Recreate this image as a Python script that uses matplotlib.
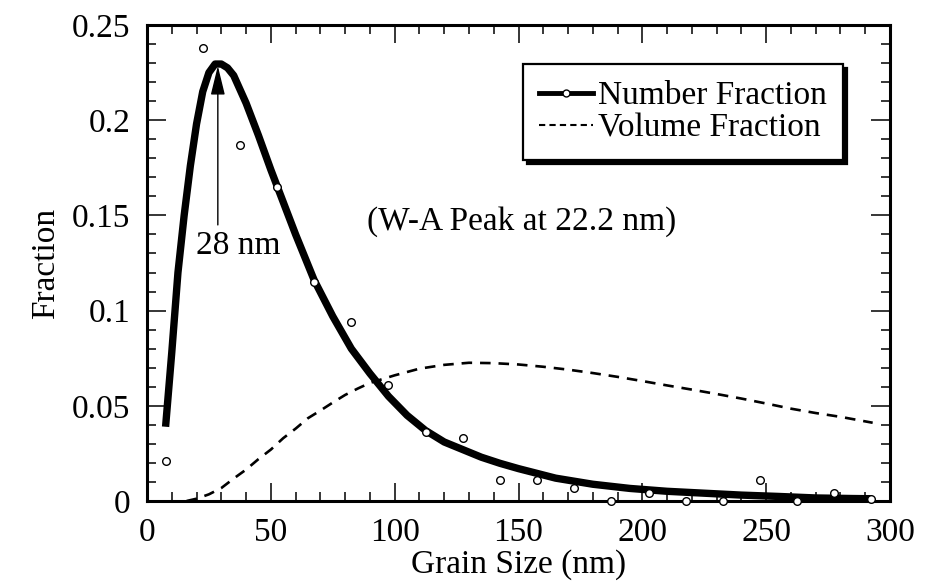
import matplotlib
matplotlib.use("Agg")
import matplotlib.pyplot as plt
from matplotlib.ticker import MultipleLocator

plt.rcParams['font.family'] = ['Liberation Serif', 'DejaVu Serif']
plt.rcParams['mathtext.fontset'] = 'stix'

# Measured points (Number Fraction)
num_x = [7.5, 22.5, 37.5, 52.5, 67.5, 82.5, 97.5, 112.5, 127.5, 142.5,
         157.5, 172.5, 187.5, 202.5, 217.5, 232.5, 247.5, 262.5, 277.5, 292.5]
num_y = [0.021, 0.238, 0.187, 0.165, 0.115, 0.094, 0.061, 0.036, 0.033, 0.011,
         0.011, 0.007, 0.000, 0.004, 0.000, 0.000, 0.011, 0.000, 0.004, 0.001]

# Fitted Number Fraction curve
fit_x = [7.5, 10, 12.5, 15, 17.5, 20, 22.5, 25, 27.5, 30, 32.5, 35, 40, 45, 50,
         55, 60, 67.5, 75, 82.5, 90, 97.5, 105, 112.5, 120, 127.5, 135, 142.5,
         150, 165, 180, 195, 210, 225, 240, 255, 270, 285, 292.5]
fit_y = [0.039, 0.078, 0.120, 0.150, 0.176, 0.198, 0.215, 0.225, 0.2295, 0.2295,
         0.2275, 0.2235, 0.209, 0.192, 0.174, 0.157, 0.140, 0.116, 0.097, 0.080,
         0.067, 0.055, 0.045, 0.037, 0.031, 0.027, 0.023, 0.0198, 0.017, 0.012,
         0.0088, 0.0066, 0.0051, 0.0041, 0.0031, 0.0024, 0.0016, 0.0013, 0.0012]

# Volume Fraction curve
vol_x = [16, 20, 25, 30, 35, 40, 45, 50, 55, 60, 65, 70, 75, 80, 85, 90, 95,
         100, 110, 120, 130, 140, 150, 160, 170, 180, 190, 200, 210, 220, 230,
         240, 250, 260, 270, 280, 293]
vol_y = [0.0, 0.0012, 0.0035, 0.0068, 0.0118, 0.0165, 0.022, 0.027, 0.033,
         0.038, 0.0435, 0.0475, 0.0517, 0.0557, 0.059, 0.062, 0.064, 0.066,
         0.0695, 0.0715, 0.0726, 0.0724, 0.0717, 0.0705, 0.069, 0.0672, 0.0652,
         0.063, 0.0607, 0.0585, 0.0562, 0.0538, 0.0512, 0.0485, 0.0462, 0.0442,
         0.0411]

x_ticks = [0, 50, 100, 150, 200, 250, 300]
x_ticklabels = ['0', '50', '100', '150', '200', '250', '300']
y_ticks = [0, 0.05, 0.1, 0.15, 0.2, 0.25]
y_ticklabels = ['0', '0.05', '0.1', '0.15', '0.2', '0.25']

FS = 24

fig = plt.figure(figsize=(9.32, 5.83), dpi=100)
ax = fig.add_axes([147/932, 1 - 501/583, 743/932, 476/583])

ax.plot(fit_x, fit_y, color='black', lw=5.3, solid_capstyle='butt',
        solid_joinstyle='round', zorder=3)
ax.plot(vol_x, vol_y, color='black', lw=1.9, dashes=(4, 3), zorder=2)
ax.plot(num_x, num_y, linestyle='none', marker='o', ms=5.5, mfc='white',
        mec='black', mew=1.0, zorder=4, clip_on=False)

# Legend proxies
h1, = ax.plot([], [], color='black', lw=3.5, marker='o', ms=5, mfc='white',
              mec='black', mew=1.0)
h2, = ax.plot([], [], color='black', lw=1.5, dashes=(3, 2))
leg = ax.legend([h1, h2], ['Number Fraction', 'Volume Fraction'],
                loc='upper right', bbox_to_anchor=(0.937, 0.918),
                fontsize=FS, numpoints=1, handlelength=1.6, handletextpad=0.15,
                labelspacing=0.05, borderpad=0.5, borderaxespad=0,
                fancybox=False, framealpha=1, edgecolor='black',
                shadow={'color': 'black', 'alpha': 1, 'ox': 3, 'oy': -3})
leg.get_frame().set_linewidth(1.6)

ax.annotate('', xy=(28.6, 0.2285), xytext=(28.6, 0.145),
            arrowprops=dict(arrowstyle='-|>,head_length=0.9,head_width=0.22',
                            color='black', lw=1.0, mutation_scale=20,
                            shrinkA=0, shrinkB=0))
ax.text(36.7, 0.134, '28 nm', fontsize=FS, ha='center', va='center')
ax.text(88.8, 0.1467, '(W-A Peak at 22.2 nm)', fontsize=FS, ha='left',
        va='center')

ax.set_xlim(0, 300)
ax.set_ylim(0, 0.25)
ax.set_xticks(x_ticks)
ax.set_xticklabels(x_ticklabels)
ax.set_yticks(y_ticks)
ax.set_yticklabels(y_ticklabels)
ax.xaxis.set_minor_locator(MultipleLocator(10))
ax.yaxis.set_minor_locator(MultipleLocator(0.01))
ax.tick_params(which='both', direction='in', top=True, right=True,
               labelsize=FS, width=1.1)
ax.tick_params(axis='x', which='major', length=13, pad=12)
ax.tick_params(axis='y', which='major', length=14, pad=12)
ax.tick_params(which='minor', length=6.5)
for sp in ax.spines.values():
    sp.set_linewidth(2.2)

ax.set_xlabel('Grain Size (nm)', fontsize=FS, labelpad=1)
ax.set_ylabel('Fraction', fontsize=FS, labelpad=8)

fig.savefig('out.png', dpi=100)
